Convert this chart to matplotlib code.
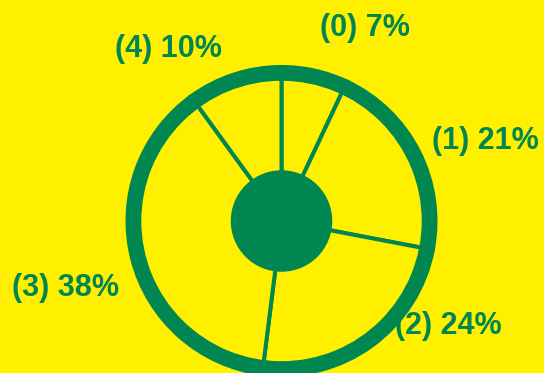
import matplotlib.pyplot as plt
from matplotlib.patches import Wedge, Circle

plt.rcParams['font.family'] = ['Liberation Sans', 'DejaVu Sans']

yellow = '#fff000'
green = '#008751'

# share of each group, in percent
groups = ['0', '1', '2', '3', '4']
shares = [7, 21, 24, 38, 10]

# where each label sits, in units of the pie radius
label_xy = [(0.54, 1.256), (1.321, 0.519), (1.084, -0.685),
            (-1.403, -0.438), (-0.734, 1.120)]

fig = plt.figure(figsize=(5.44, 3.73), dpi=100, facecolor=yellow)
ax = fig.add_axes([0, 0, 1, 1])
ax.set_facecolor(yellow)

ax.pie(shares, startangle=90, counterclock=False, radius=1.0,
       colors=[yellow] * len(shares),
       wedgeprops=dict(edgecolor=green, linewidth=2.9))

# thick outer rim and solid hub
ax.add_patch(Wedge((0, 0), 1.0, 0, 360, width=0.085, color=green, zorder=5))
ax.add_patch(Circle((0, 0), 0.325, color=green, zorder=5))

for g, s, (x, y) in zip(groups, shares, label_xy):
    ax.text(x, y, f'({g}) {s}%', ha='center', va='center',
            fontsize=22, fontweight='bold', color=green)

ax.set_xlim(-281.5 / 154, (544 - 281.5) / 154)
ax.set_ylim(-(373 - 221) / 154, 221 / 154)
ax.set_aspect('auto')
ax.axis('off')

fig.savefig('out.png', dpi=100, facecolor=yellow)
